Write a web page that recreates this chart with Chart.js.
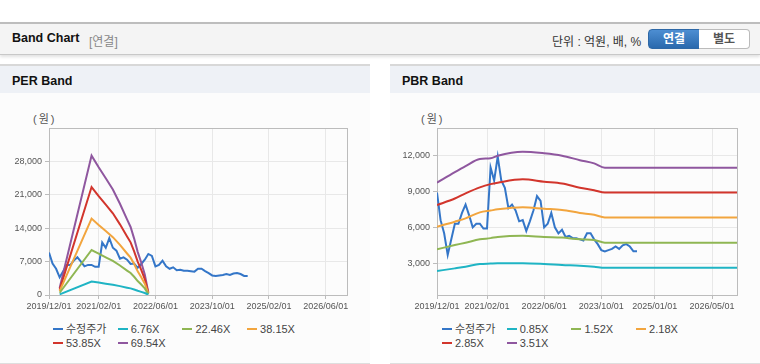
<!DOCTYPE html>
<html lang="ko">
<head>
<meta charset="utf-8">
<script src="https://cdn.jsdelivr.net/npm/chart.js@4"></script>
<style>
  body { margin: 0; width: 760px; height: 364px; background: #fff; position: relative; overflow: hidden;
         font-family: "Liberation Sans", "Noto Sans CJK KR", sans-serif; }
  .topbar { position: absolute; left: 0; top: 22px; width: 760px; height: 30px; background: #f4f4f4;
            border-top: 2px solid #bdbdbd; border-bottom: 1px solid #c8c8c8; box-shadow: 0 2px 3px rgba(0,0,0,0.12); }
  .topbar .title { position: absolute; left: 12px; top: 7px; font-size: 12.5px; font-weight: bold; color: #111; }
  .topbar .sub { position: absolute; left: 89px; top: 8px; font-size: 12px; color: #888; }
  .topbar .unit { position: absolute; left: 552px; top: 8px; font-size: 12px; color: #333; }
  .btn { position: absolute; top: 5px; height: 18px; width: 50px; font-size: 12px; font-weight: bold;
         text-align: center; line-height: 18px; box-sizing: content-box; }
  .btn.on { left: 648px; background: linear-gradient(#4d8ed2, #2a69ad); color: #fff; border: 1px solid #2e68a6;
            border-radius: 4px 0 0 4px; }
  .btn.off { left: 699px; background: #fff; color: #555; border: 1px solid #bbb; border-left: none;
             border-radius: 0 4px 4px 0; }
  .panel { position: absolute; top: 64px; width: 370px; height: 297px; background: #fcfcfc;
           border-top: 2px solid #d8d8d8; border-bottom: 2px solid #dedede; }
  .panel .head { height: 27px; background: #eef1f6; font-size: 12.5px; font-weight: bold; color: #111;
                 padding-left: 12px; line-height: 30px; }
  .unitlbl { position: absolute; top: 110px; font-size: 11px; color: #555; letter-spacing: 2px; }
  canvas { position: absolute; top: 93px; }
  .legend { position: absolute; top: 323px; width: 300px; font-size: 11px; color: #444; }
  .legend .item { position: absolute; white-space: nowrap; height: 13px; line-height: 13px; }
  .legend .sw { display: inline-block; width: 10px; height: 2px; vertical-align: middle; margin-right: 3px; margin-top: -2px; }
</style>
</head>
<body>
<div class="topbar">
  <div class="title">Band Chart</div>
  <div class="sub">[연결]</div>
  <div class="unit">단위 : 억원, 배, %</div>
  <div class="btn on">연결</div>
  <div class="btn off">별도</div>
</div>
<div class="panel" style="left:0"><div class="head">PER Band</div></div>
<div class="panel" style="left:390px"><div class="head">PBR Band</div></div>
<div class="unitlbl" style="left:33px">(원)</div>
<div class="unitlbl" style="left:421px">(원)</div>
<canvas id="per" width="370" height="220" style="left:0"></canvas>
<canvas id="pbr" width="370" height="220" style="left:390px"></canvas>
<div class="legend" id="perLegend" style="left:53px"></div>
<div class="legend" id="pbrLegend" style="left:442px"></div>
<script>
// months counted from 2019/12
const perTickMonths = [0, 14, 30, 46, 62, 78]
const perTickLabels = ["2019/12/01", "2021/02/01", "2022/06/01", "2023/10/01", "2025/02/01", "2026/06/01"]
const pbrTickMonths = [0, 14, 30, 46, 61, 77]
const pbrTickLabels = ["2019/12/01", "2021/02/01", "2022/06/01", "2023/10/01", "2025/01/01", "2026/05/01"]

// 수정주가, monthly from 2019/12
const price = [8900, 6600, 5500, 3700, 5000, 6300, 6300, 7200, 7900, 7000,
               6000, 6300, 6300, 5900, 5900, 11000, 9900, 11900, 9900, 9300,
               7600, 7900, 7400, 6500, 6600, 5700, 6500, 7400, 8600, 8200,
               6000, 6300, 7200, 6000, 5500, 5800, 5200, 5300, 5100, 5100,
               5000, 4900, 5500, 5500, 5000, 4600, 4100, 4000, 4100, 4200,
               4400, 4200, 4500, 4600, 4400, 4000, 4000]

const perBandMonths = [3, 12, 14, 16, 18, 20, 22, 23, 24, 25, 26, 27, 28]
const per676 = [140, 2840, 2600, 2380, 2150, 1860, 1540, 1390, 1150, 880, 660, 420, 55]
const per2246 = [470, 9430, 8650, 7900, 7140, 6180, 5120, 4600, 3820, 2920, 2200, 1390, 180]
const per3815 = [800, 16020, 14690, 13430, 12130, 10490, 8700, 7820, 6490, 4960, 3740, 2370, 300]
const per5385 = [1130, 22620, 20730, 18950, 17120, 14810, 12280, 11040, 9150, 7000, 5280, 3340, 430]
const per6954 = [1460, 29210, 26770, 24480, 22110, 19120, 15850, 14260, 11820, 9040, 6820, 4310, 560]

const pbrBandMonths = [0, 5, 8, 12, 15, 17, 24, 30, 35, 40, 44, 47, 84]
const pbr085 = [2360, 2580, 2720, 2940, 2980, 3000, 3000, 2940, 2860, 2800, 2720, 2630, 2630]
const pbr152 = [4170, 4520, 4720, 5000, 5100, 5200, 5300, 5200, 5150, 5000, 4950, 4720, 4720]
const pbr218 = [6050, 6470, 6750, 7250, 7400, 7500, 7670, 7550, 7450, 7200, 7050, 6830, 6830]
const pbr285 = [7860, 8400, 8830, 9330, 9600, 9720, 10000, 9800, 9650, 9300, 9100, 8900, 8900]
const pbr351 = [9720, 10600, 11100, 11700, 11750, 11970, 12300, 12170, 11970, 11600, 11330, 10970, 10970]

const colors = ["#3476c8", "#1fb4c4", "#8fb653", "#f2a53e", "#d2352c", "#8f579f"]
const perNames = ["수정주가", "6.76X", "22.46X", "38.15X", "53.85X", "69.54X"]
const pbrNames = ["수정주가", "0.85X", "1.52X", "2.18X", "2.85X", "3.51X"]

const frame = {
    id: "frame",
    beforeDatasetsDraw(chart) {
        const { ctx, chartArea: a } = chart
        ctx.save()
        ctx.strokeStyle = "#bcbcbc"
        ctx.lineWidth = 1
        ctx.strokeRect(Math.round(a.left) + 0.5, Math.round(a.top) + 0.5,
                       Math.round(a.right - a.left), Math.round(a.bottom - a.top))
        ctx.restore()
    },
}

function pts(xs, ys) {
    return ys.map((y, i) => ({ x: xs[i], y }))
}

function buildChart(id, names, bands, bandMonths, tickMonths, tickLabels, yOpts, leftW, smooth) {
    const priceMonths = price.map((_, i) => i)
    const datasets = [{ label: names[0], data: pts(priceMonths, price) }]
    bands.forEach((b, i) => datasets.push({ label: names[i + 1], data: pts(bandMonths, b) }))
    datasets.forEach((d, i) => {
        d.borderColor = colors[i]
        d.backgroundColor = colors[i]
        d.borderWidth = 2
        d.pointRadius = 0
        d.fill = false
        if (smooth && i > 0) d.cubicInterpolationMode = "monotone"
    })
    // draw price on top
    datasets.push(datasets.shift())

    const tickFont = { family: "Liberation Sans", size: 9 }
    return new Chart(document.getElementById(id), {
        type: "line",
        data: { datasets },
        plugins: [frame],
        options: {
            responsive: false,
            animation: false,
            devicePixelRatio: 1,
            layout: { padding: { left: 0, right: 23, top: 35, bottom: 0 } },
            plugins: { legend: { display: false }, tooltip: { enabled: false } },
            scales: {
                x: {
                    type: "linear", min: 0, max: 84,
                    afterBuildTicks: (s) => { s.ticks = tickMonths.map(v => ({ value: v })) },
                    afterFit: (s) => { s.height = 18 },
                    grid: { color: "#e8e8e8", tickColor: "#bcbcbc", tickLength: 4 },
                    border: { color: "#bcbcbc" },
                    ticks: {
                        autoSkip: false, maxRotation: 0, padding: 2, color: "#555", font: tickFont,
                        callback: (v) => tickLabels[tickMonths.indexOf(v)],
                    },
                },
                y: {
                    min: yOpts.min, max: yOpts.max,
                    afterBuildTicks: (s) => { s.ticks = yOpts.ticks.map(v => ({ value: v })) },
                    afterFit: (s) => { s.width = leftW },
                    grid: { color: "#e8e8e8", tickColor: "#bcbcbc", tickLength: 4 },
                    border: { color: "#bcbcbc" },
                    ticks: {
                        padding: 3, color: "#555", font: tickFont,
                        callback: (v) => v.toLocaleString("en-US"),
                    },
                },
            },
        },
    })
}

function buildLegend(elId, names) {
    const el = document.getElementById(elId)
    names.forEach((n, i) => {
        const item = document.createElement("div")
        item.className = "item"
        item.style.left = (i % 4) * 64.7 + "px"
        item.style.top = Math.floor(i / 4) * 13.5 + "px"
        item.innerHTML = `<span class="sw" style="background:${colors[i]}"></span>${n}`
        el.appendChild(item)
    })
}

buildChart("per", perNames, [per676, per2246, per3815, per5385, per6954], perBandMonths,
           perTickMonths, perTickLabels, { min: 0, max: 35000, ticks: [0, 7000, 14000, 21000, 28000] }, 49, false)
buildChart("pbr", pbrNames, [pbr085, pbr152, pbr218, pbr285, pbr351], pbrBandMonths,
           pbrTickMonths, pbrTickLabels, { min: 360, max: 14280, ticks: [3000, 6000, 9000, 12000] }, 47, true)
buildLegend("perLegend", perNames)
buildLegend("pbrLegend", pbrNames)
</script>
</body>
</html>
